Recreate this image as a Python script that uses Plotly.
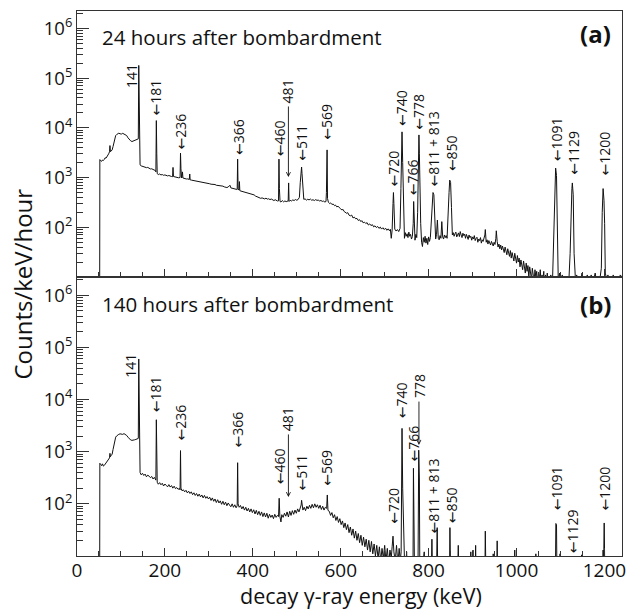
import plotly.graph_objects as go
import math

# ---------------- data: panel (a) 24 h spectrum (energy keV, counts/keV/hour) ----------------
spectrum_a = [
    (51.5, 1), (52, 2300), (54, 2180), (56, 2120), (58, 2250), (60, 2200), (62, 2320), (64, 2500),
    (66, 2450), (68, 2700), (70, 2800), (72, 3000), (74, 3300), (75, 4400), (76, 3300), (78, 3450),
    (80, 3600), (82, 4200), (84, 5200), (86, 6200), (88, 7000), (90, 7300), (92, 7600), (95, 7800),
    (98, 7600), (101, 7500), (104, 7750), (107, 7500), (110, 7300), (113, 7000), (116, 6300),
    (119, 5800), (122, 5500), (125, 5300), (128, 5450), (131, 5500), (134, 5700), (137, 5800),
    (139.5, 6000), (140.5, 180000), (141.5, 17000), (142.5, 9000), (143.5, 1800),
    (146, 1720), (149, 1680), (152, 1700), (155, 1630), (158, 1580), (161, 1600), (164, 1520),
    (167, 1490), (170, 1500), (173, 1440), (176, 1420), (178.5, 1380), (179.5, 1300),
    (180.5, 14000), (181.5, 3000), (182.5, 1200), (185, 1150), (188, 1180), (191, 1130),
    (194, 1150), (197, 1110), (200, 1130), (203, 1090), (206, 1080), (209, 1100), (212, 1060),
    (215, 1050), (217.5, 1040), (218.5, 1600), (219.5, 1050), (222, 1030), (225, 1010),
    (228, 1020), (231, 990), (234.5, 1000), (235.5, 3100), (236.5, 1500), (238, 980), (240, 1300),
    (241, 980), (243, 960), (246, 950), (249, 935), (252, 940), (255.5, 915), (256.5, 1180),
    (257.5, 900), (260, 890), (263, 880), (266, 885), (269, 860), (272, 840), (275, 850),
    (278, 820), (281, 815), (284, 800), (287, 805), (290, 785), (293, 775), (296, 780), (299, 760),
    (302, 750), (305, 735), (308, 740), (311, 720), (314, 725), (317, 700), (320, 695), (323, 700),
    (326, 675), (329, 668), (332, 672), (335, 650), (338, 640), (341, 630), (344, 645), (346, 690),
    (348, 700), (350, 620), (353, 605), (356, 598), (359, 590), (362, 582), (364.5, 575),
    (365.5, 2350), (366.5, 600), (368.5, 560), (369.5, 830), (370.5, 545), (373, 535), (376, 525),
    (379, 515), (382, 520), (385, 495), (388, 490), (391, 482), (394, 470), (397, 462), (400, 450),
    (403, 448), (406, 425), (409, 415), (412, 405), (415, 395), (418, 382), (421, 390), (424, 378),
    (427, 372), (430, 385), (433, 368), (436, 375), (439, 360), (442, 370), (445, 352), (448, 345),
    (451, 358), (454, 342), (456, 338), (458.5, 340), (459.5, 2350), (460.5, 600), (462, 330),
    (464, 322), (467, 345), (470, 325), (473, 338), (476, 328), (479, 336), (480.5, 340),
    (481.5, 780), (482.5, 330), (485, 348), (488, 338), (491, 355), (494, 345), (497, 362),
    (500, 350), (503, 362), (506, 400), (508, 800), (510, 1500), (511, 1630), (512, 1200),
    (514, 500), (516, 365), (519, 372), (522, 352), (525, 366), (528, 355), (531, 370), (534, 350),
    (537, 358), (540, 345), (543, 360), (546, 348), (549, 352), (552, 338), (555, 346), (558, 332),
    (561, 336), (564, 322), (566.5, 330), (567.5, 500), (569, 3600), (570, 380), (572, 318),
    (575, 300), (577, 310), (580, 288), (583, 293), (586, 272), (588, 280), (591, 258), (594, 264),
    (597, 242), (600, 234), (603, 222), (605, 230), (608, 207), (611, 202), (614, 190), (616, 197),
    (619, 175), (622, 170), (625, 176), (628, 154), (631, 160), (634, 148), (637, 151), (640, 137),
    (643, 142), (646, 130), (648, 136), (651, 123), (654, 127), (657, 119), (660, 124), (663, 111),
    (666, 117), (669, 108), (672, 113), (675, 102), (678, 107), (681, 99), (684, 104), (687, 95),
    (690, 101), (693, 92), (696, 98), (699, 90), (702, 96), (705, 87), (708, 93), (711, 85),
    (713, 91), (715, 60), (717, 88), (719, 300), (720, 500), (721, 300), (723, 92), (726, 84),
    (729, 90), (732, 82), (735, 95), (737, 600), (739.5, 8300), (741, 2000), (743, 200), (745, 60),
    (747, 78), (749, 66), (751, 74), (753, 62), (755, 80), (757, 66), (759, 72), (761, 58),
    (763, 65), (765, 120), (766, 330), (767, 100), (769, 55), (771, 72), (773, 62), (775, 200),
    (777, 2000), (778, 7200), (779, 3000), (780, 700), (782, 120), (784, 50), (786, 41), (788, 62),
    (790, 50), (792, 66), (794, 48), (796, 60), (798, 45), (800, 64), (802, 52), (804, 62),
    (806, 120), (808, 400), (810, 500), (812, 450), (814, 150), (816, 58), (818, 72), (820, 140),
    (822, 60), (824, 56), (826, 68), (828, 60), (830, 130), (832, 64), (834, 58), (836, 70),
    (838, 62), (840, 68), (842, 60), (844, 120), (846.5, 500), (848, 890), (850, 800), (852, 250),
    (854, 70), (856, 78), (858, 66), (860, 74), (862, 80), (864, 64), (866, 72), (868, 77),
    (870, 65), (872, 82), (874, 70), (876, 62), (878, 76), (880, 68), (882, 73), (884, 60),
    (886, 72), (888, 64), (890, 57), (892, 70), (894, 62), (896, 66), (898, 55), (900, 64),
    (902, 58), (904, 68), (906, 54), (908, 60), (910, 63), (912, 50), (914, 58), (916, 54),
    (918, 62), (920, 48), (922, 56), (924, 52), (926, 58), (928, 70), (929, 90), (931, 50),
    (933, 56), (935, 46), (937, 54), (939, 50), (941, 44), (943, 52), (945, 47), (947, 42),
    (949, 50), (951, 45), (953, 60), (954, 85), (956, 52), (958, 40), (960, 46), (962, 37),
    (964, 44), (966, 35), (968, 42), (970, 36), (972, 31), (974, 40), (976, 33), (978, 28),
    (980, 37), (982, 30), (984, 26), (986, 34), (988, 24), (990, 31), (992, 26), (994, 21),
    (996, 30), (998, 22), (1000, 19), (1002, 27), (1004, 20), (1006, 24), (1008, 16), (1010, 22),
    (1012, 18), (1014, 14), (1016, 21), (1018, 15), (1020, 12), (1022, 19), (1024, 13), (1026, 17),
    (1028, 10), (1030, 16), (1032, 12), (1034, 9), (1036, 15), (1038, 11), (1040, 8), (1042, 14),
    (1044, 10), (1046, 13), (1048, 7), (1050, 12), (1052, 9), (1054, 14), (1056, 7), (1058, 11),
    (1060, 9), (1062, 13), (1064, 6), (1066, 11), (1068, 8), (1070, 12), (1072, 7), (1074, 10),
    (1076, 8), (1078, 11), (1080, 6), (1082, 9), (1084, 40), (1086, 500), (1088, 1200),
    (1089, 1550), (1091, 1100), (1093, 100), (1095, 8), (1098, 12), (1101, 7), (1104, 11),
    (1107, 8), (1110, 10), (1113, 6), (1116, 10), (1119, 8), (1122, 30), (1124, 300), (1126, 600),
    (1127, 780), (1129, 450), (1131, 30), (1134, 9), (1137, 11), (1140, 7), (1143, 10), (1146, 8),
    (1149, 12), (1152, 7), (1155, 10), (1158, 8), (1161, 11), (1164, 7), (1167, 9), (1170, 11),
    (1173, 7), (1176, 10), (1179, 12), (1182, 8), (1185, 10), (1188, 7), (1191, 11), (1193, 15),
    (1195, 200), (1197, 600), (1199, 350), (1200.5, 120), (1202, 12), (1205, 9), (1208, 11),
    (1211, 7), (1214, 10), (1217, 8), (1220, 11), (1224, 7), (1228, 10), (1232, 8), (1236, 11),
    (1240, 10),
]

# ---------------- data: panel (b) 140 h spectrum ----------------
spectrum_b = [
    (51.5, 1), (52, 600), (54, 570), (56, 540), (58, 585), (60, 530), (62, 545), (64, 580),
    (66, 620), (68, 660), (70, 700), (72, 720), (74, 760), (75, 930), (76, 800), (78, 850),
    (80, 900), (82, 1100), (84, 1400), (86, 1700), (88, 1900), (90, 2000), (92, 2100), (95, 2150),
    (98, 2200), (101, 2180), (104, 2150), (107, 2220), (110, 2150), (113, 2050), (116, 1900),
    (119, 1780), (122, 1680), (125, 1650), (128, 1700), (131, 1690), (134, 1720), (137, 1760),
    (139.5, 1800), (140.5, 60000), (141.5, 4600), (142.5, 2000), (143.5, 400),
    (146, 360), (149, 385), (152, 350), (155, 372), (158, 330), (161, 355), (164, 340), (167, 318),
    (170, 335), (173, 300), (176, 322), (178, 295), (179.5, 285), (180.5, 4100), (181.5, 700),
    (182.5, 260), (185, 238), (188, 255), (191, 232), (194, 248), (197, 220), (200, 240),
    (203, 226), (206, 212), (209, 234), (212, 210), (215, 224), (218, 200), (221, 218), (224, 196),
    (227, 205), (230, 190), (233, 198), (234.5, 185), (235.5, 1050), (236.5, 200), (239, 178),
    (242, 186), (245, 170), (248, 182), (251, 162), (254, 175), (257, 158), (260, 170), (263, 150),
    (266, 163), (269, 145), (272, 158), (275, 140), (278, 154), (281, 136), (284, 148), (287, 130),
    (290, 145), (293, 128), (296, 138), (299, 124), (302, 134), (305, 116), (308, 130), (311, 112),
    (314, 124), (317, 106), (320, 120), (323, 104), (326, 114), (329, 98), (332, 112), (335, 96),
    (338, 108), (341, 92), (344, 104), (347, 95), (350, 88), (353, 100), (356, 86), (359, 96),
    (362, 84), (364.5, 92), (365.5, 615), (366.5, 100), (369, 86), (372, 93), (375, 80), (378, 89),
    (381, 76), (384, 86), (387, 73), (390, 82), (393, 70), (396, 80), (399, 68), (402, 77),
    (405, 64), (408, 75), (411, 62), (414, 72), (417, 60), (420, 70), (423, 57), (426, 67),
    (429, 56), (432, 66), (435, 53), (438, 63), (441, 55), (444, 61), (447, 52), (450, 63),
    (453, 55), (456, 60), (458.5, 57), (460, 128), (461.5, 58), (464, 45), (466, 62), (469, 55),
    (472, 66), (475, 58), (478, 70), (481, 56), (484, 72), (487, 60), (490, 74), (493, 63),
    (496, 76), (499, 66), (502, 80), (505, 70), (508, 84), (510, 95), (511, 117), (512, 88),
    (514, 76), (517, 86), (520, 74), (523, 90), (526, 80), (529, 94), (532, 82), (535, 98),
    (538, 84), (541, 100), (544, 86), (547, 96), (550, 82), (553, 94), (556, 78), (559, 90),
    (562, 76), (565, 86), (568, 82), (569.5, 148), (571, 75), (574, 72), (577, 60), (580, 68),
    (583, 54), (586, 62), (589, 48), (592, 57), (595, 44), (598, 52), (601, 40), (604, 47),
    (607, 35), (610, 43), (613, 32), (616, 40), (619, 28), (622, 36), (625, 25), (628, 33),
    (631, 22), (634, 30), (637, 20), (640, 27), (643, 18), (646, 25), (649, 16), (652, 23),
    (655, 15), (658, 21), (661, 13), (664, 20), (667, 12), (670, 19), (673, 11), (676, 17),
    (679, 10), (682, 16), (685, 9), (688, 15), (691, 8), (694, 14), (697, 9), (700, 16), (703, 8),
    (706, 14), (709, 7), (712, 13), (715, 9), (717, 15), (719, 24), (721, 12), (724, 8), (727, 16),
    (730, 7), (733, 14), (735.5, 8), (737.5, 12), (739.5, 2800), (741, 200), (743, 5), (746, 4),
    (750, 12), (752, 4), (756, 5), (760, 4), (763, 5), (764.5, 6), (765.5, 480), (767, 100),
    (768, 4), (772, 5), (776, 8), (777.5, 1070), (779, 300), (780, 5), (784, 4), (790, 12),
    (792, 4), (800, 5), (806, 4), (807.5, 21), (809, 4), (818, 5), (819.5, 35), (821, 4), (836, 5),
    (847.5, 4), (848.5, 35), (850, 4), (866, 5), (867.5, 16), (869, 4), (895, 5), (896, 12),
    (897, 4), (900, 4), (901, 13), (902, 4), (906, 5), (907, 16), (908, 4), (928, 4), (929, 30),
    (930.5, 4), (946, 5), (947, 11), (948, 4), (955, 4), (956, 19.5), (957, 4), (995, 4),
    (996, 13), (997, 4), (1043, 5), (1044, 11), (1045, 4), (1088.5, 4), (1089.5, 42), (1091, 40),
    (1092, 4), (1098, 4), (1099, 11), (1100, 4), (1147, 5), (1148, 10.5), (1149, 4), (1196, 4),
    (1197, 13), (1198, 5), (1199.5, 43), (1201, 4), (1240, 4),
]

energy_a = [p[0] for p in spectrum_a]
counts_a = [p[1] for p in spectrum_a]
energy_b = [p[0] for p in spectrum_b]
counts_b = [p[1] for p in spectrum_b]

# ---------------- peak labels ----------------
peak_labels = ["141", "181", "236", "366", "460", "481", "511", "569", "720", "740", "766",
               "778", "811 + 813", "850", "1091", "1129", "1200"]
peak_label_x = [123, 179, 236, 366, 460, 481, 511, 569, 720, 740, 765, 778, 812, 851, 1090,
                1128, 1200]

# layout: bottom of each rotated label (log10 counts); long arrows: tip (log10 counts)
label_base_a = [4.76, 4.20, 3.52, 3.41, 3.39, 4.46, 3.29, 3.72, 2.79, 4.00, 2.61, 3.92, 2.79,
                3.09, 3.29, 3.01, 3.01]
label_base_b = [4.38, 3.71, 3.17, 3.04, 2.34, 3.36, 2.21, 2.31, 1.59, 3.61, 2.78, 3.99, 1.40,
                1.59, 1.84, 1.01, 1.84]
long_arrow_a = {"481": 3.01}
long_arrow_b = {"481": 2.13, "778": 3.13}
no_arrow = {"141"}

FONT = "Open Sans"
INK = "#111111"
ARROW = '<span style="font-family:DejaVu Sans">\u2190</span>'

fig = go.Figure()
fig.add_trace(go.Scatter(x=energy_a, y=counts_a, mode="lines", xaxis="x", yaxis="y",
                         line=dict(color=INK, width=1), showlegend=False, hoverinfo="skip"))
fig.add_trace(go.Scatter(x=energy_b, y=counts_b, mode="lines", xaxis="x2", yaxis="y2",
                         line=dict(color=INK, width=1), showlegend=False, hoverinfo="skip"))

annotations = []


def add_labels(xref, yref, bases, longs):
    for lab, e, base in zip(peak_labels, peak_label_x, bases):
        text = lab if (lab in no_arrow or lab in longs) else ARROW + lab
        annotations.append(dict(x=e, y=base, xref=xref, yref=yref, text=text, textangle=-90,
                                showarrow=False, xanchor="center", yanchor="bottom",
                                font=dict(family=FONT, size=14, color=INK)))
        if lab in longs:
            annotations.append(dict(x=e, y=longs[lab], xref=xref, yref=yref,
                                    ax=e, ay=base, axref=xref, ayref=yref, text="",
                                    showarrow=True, arrowhead=5, arrowsize=0.9,
                                    arrowwidth=0.9, arrowcolor=INK))


add_labels("x", "y", label_base_a, long_arrow_a)
add_labels("x2", "y2", label_base_b, long_arrow_b)

annotations += [
    dict(x=0.042, y=0.952, xref="paper", yref="paper", text="24 hours after bombardment",
         showarrow=False, xanchor="left", yanchor="middle",
         font=dict(family=FONT, size=20.5, color=INK)),
    dict(x=0.042, y=0.463, xref="paper", yref="paper", text="140 hours after bombardment",
         showarrow=False, xanchor="left", yanchor="middle",
         font=dict(family=FONT, size=20.5, color=INK)),
    dict(x=0.9836, y=0.958, xref="paper", yref="paper", text="<b>(a)</b>",
         showarrow=False, xanchor="right", yanchor="middle",
         font=dict(family=FONT, size=24, color=INK)),
    dict(x=0.9836, y=0.4606, xref="paper", yref="paper", text="<b>(b)</b>",
         showarrow=False, xanchor="right", yanchor="middle",
         font=dict(family=FONT, size=24, color=INK)),
    dict(x=-0.100, y=0.499, xref="paper", yref="paper", text="Counts/keV/hour",
         textangle=-90, showarrow=False, xanchor="center", yanchor="middle",
         font=dict(family=FONT, size=24, color=INK)),
    dict(x=0.522, y=-0.073, xref="paper", yref="paper", text="decay \u03b3-ray energy (keV)",
         showarrow=False, xanchor="center", yanchor="middle",
         font=dict(family=FONT, size=21.5, color=INK)),
]

ytickvals = [1e2, 1e3, 1e4, 1e5, 1e6]
yticktext = ["10<sup>%d</sup>" % int(round(math.log10(v))) for v in ytickvals]
yminor = [m * 10 ** k for k in range(1, 7) for m in range(2, 10) if m * 10 ** k < 2.3e6]

yaxis_common = dict(type="log", range=[1, 6.35], tickvals=ytickvals, ticktext=yticktext,
                    ticks="inside", ticklen=12, tickwidth=1, tickcolor="#333",
                    minor=dict(tickvals=yminor, ticks="inside", ticklen=6, tickcolor="#333"),
                    showgrid=False, zeroline=False, showline=True, linecolor="#333",
                    linewidth=1, mirror=True,
                    tickfont=dict(family=FONT, size=18.5, color=INK))
xaxis_common = dict(range=[0, 1240], dtick=200, tick0=0, ticks="inside", ticklen=8,
                    tickwidth=1, tickcolor="#333",
                    minor=dict(dtick=50, ticks="inside", ticklen=5, tickcolor="#333"),
                    showgrid=False, zeroline=False, showline=True, linecolor="#333",
                    linewidth=1, mirror=True, ticklabelstandoff=-3,
                    tickfont=dict(family=FONT, size=19, color=INK))

split = 279 / 545
fig.update_layout(
    width=632, height=610,
    margin=dict(l=77, r=6, t=11, b=54),
    paper_bgcolor="white", plot_bgcolor="white",
    xaxis=dict(xaxis_common, domain=[0, 1], anchor="y", showticklabels=False, matches="x2"),
    yaxis=dict(yaxis_common, domain=[split, 1], anchor="x"),
    xaxis2=dict(xaxis_common, domain=[0, 1], anchor="y2"),
    yaxis2=dict(yaxis_common, domain=[0, split], anchor="x2"),
    annotations=annotations,
    showlegend=False,
)

fig.write_html("out.html", config={"displayModeBar": False},
               post_script="document.body.style.margin='0';document.body.style.overflow='hidden';")
